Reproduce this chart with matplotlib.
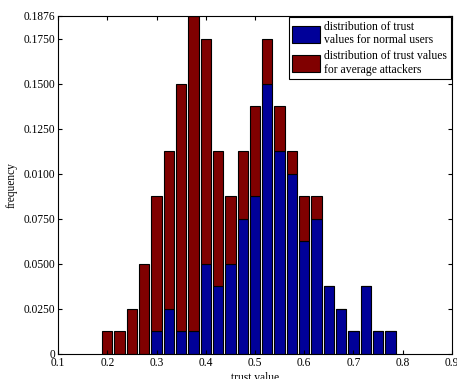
import numpy as np
import matplotlib
matplotlib.use('Agg')
import matplotlib.pyplot as plt

plt.rcParams['font.family'] = ['Liberation Serif', 'DejaVu Serif']
plt.rcParams['font.size'] = 8.3

# bin centres of trust value
trust = [0.200, 0.225, 0.250, 0.275, 0.300, 0.325, 0.350, 0.375, 0.400, 0.425,
         0.450, 0.475, 0.500, 0.525, 0.550, 0.575, 0.600, 0.625, 0.650, 0.675,
         0.700, 0.725, 0.750, 0.775]
normal = [0, 0, 0, 0, 0.0125, 0.025, 0.0125, 0.0125, 0.05, 0.0375,
          0.05, 0.075, 0.0875, 0.15, 0.1125, 0.1, 0.0625, 0.075, 0.0375, 0.025,
          0.0125, 0.0375, 0.0125, 0.0125]
attackers = [0.0125, 0.0125, 0.025, 0.05, 0.075, 0.0875, 0.1375, 0.175, 0.125, 0.075,
             0.0375, 0.0375, 0.05, 0.025, 0.025, 0.0125, 0.025, 0.0125, 0, 0,
             0, 0, 0, 0]
yticks = [0, 0.025, 0.05, 0.075, 0.1, 0.125, 0.15, 0.175, 0.1876]
ylabels = ['0', '0.0250', '0.0500', '0.0750', '0.0100', '0.1250', '0.1500', '0.1750', '0.1876']
xticks = [0.1, 0.2, 0.3, 0.4, 0.5, 0.6, 0.7, 0.8, 0.9]

fig = plt.figure(figsize=(4.57, 3.79), dpi=100)
ax = fig.add_axes([0.127, 0.066, 0.862, 0.892])

blue = (0, 0, 0.6)
red = (0.5, 0, 0)
ax.bar(trust, normal, width=0.021, color=blue, edgecolor='k', linewidth=0.8,
       label='distribution of trust\nvalues for normal users')
ax.bar(trust, attackers, width=0.021, bottom=normal, color=red, edgecolor='k', linewidth=0.8,
       label='distribution of trust values\nfor average attackers')

ax.set_xlim(0.1, 0.9)
ax.set_ylim(0, 0.1876)
ax.set_xticks(xticks)
ax.set_xticklabels([str(t) for t in xticks])
ax.set_yticks(yticks)
ax.set_yticklabels(ylabels)
ax.tick_params(direction='in', top=True, right=True, length=3, pad=2)
ax.set_xlabel('trust value', labelpad=2)
ax.set_ylabel('frequency', labelpad=4)

leg = ax.legend(loc='upper right', fancybox=False, edgecolor='k', framealpha=1,
                fontsize=8.4, handlelength=2.4, handleheight=1.9,
                borderaxespad=0.1, labelspacing=0.3, handletextpad=0.35,
                borderpad=0.3)
leg.get_frame().set_linewidth(0.8)

plt.savefig('out.png', dpi=100)
